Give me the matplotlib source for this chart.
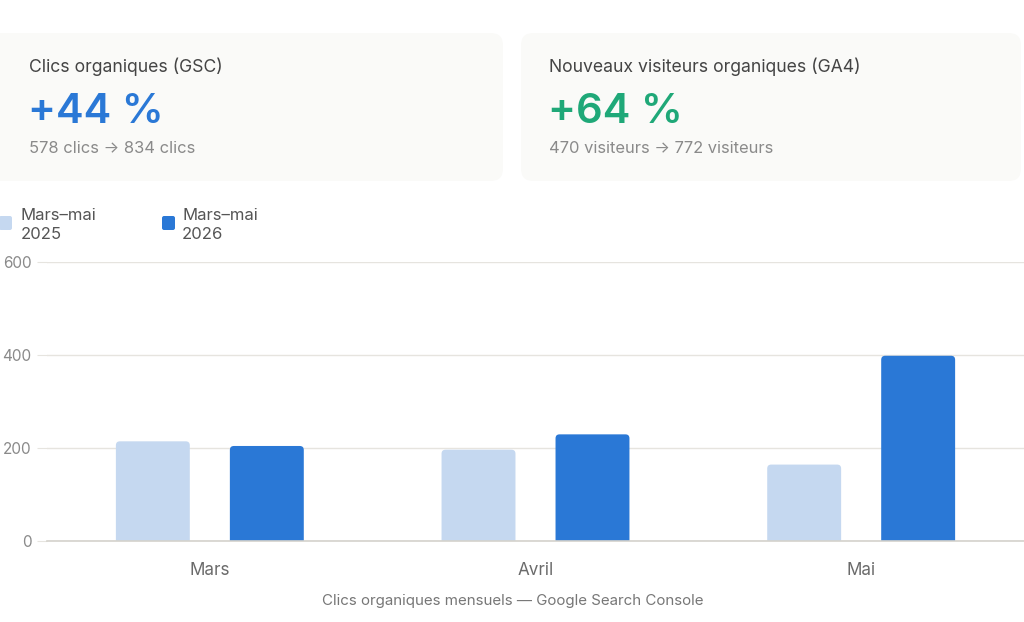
"""Clics organiques mensuels, mars-mai 2025 vs 2026."""

import matplotlib
matplotlib.use("Agg")
import matplotlib.pyplot as plt
import numpy as np
from matplotlib.patches import FancyBboxPatch

plt.rcParams["font.family"] = ["Inter", "DejaVu Sans"]

months = ["Mars", "Avril", "Mai"]
clicks_2025 = [215, 197, 165]
clicks_2026 = [205, 230, 399]
series_labels = ["Mars–mai\n2025", "Mars–mai\n2026"]
y_ticks = [0, 200, 400, 600]

cards = [
    ("Clics organiques (GSC)", "+44 %", "578 clics → 834 clics", "#2A78D6"),
    ("Nouveaux visiteurs organiques (GA4)", "+64 %", "470 visiteurs → 772 visiteurs", "#1FA878"),
]

LIGHT = "#C5D8F0"
DARK = "#2A78D6"
W, H = 1024, 622


def fx(px):
    return px / W


def fy(py):
    return 1 - py / H


fig = plt.figure(figsize=(W / 100, H / 100), dpi=100)
fig.patch.set_facecolor("white")

# summary cards
for i, (title, big, sub, color) in enumerate(cards):
    x0, x1 = (-12, 503) if i == 0 else (521, 1021)
    fig.patches.append(FancyBboxPatch(
        (fx(x0), fy(181)), fx(x1 - x0), fy(33) - fy(181),
        boxstyle="round,pad=0,rounding_size=0.012", mutation_aspect=W / H,
        transform=fig.transFigure, facecolor="#FAFAF8", edgecolor="none", zorder=0))
    tx = 29 if i == 0 else 549
    fig.text(fx(tx), fy(67), title, fontsize=12.7, color="#444444", va="center", ha="left")
    fig.text(fx(tx - 1), fy(112), big, fontsize=30, color=color, va="center", ha="left",
             fontweight="semibold")
    fig.text(fx(tx), fy(148), sub, fontsize=11.9, color="#8A8A8A", va="center", ha="left")

# chart
ax = fig.add_axes([fx(47), fy(541.3), fx(1024 - 47), fy(262.3) - fy(541.3)])
x = np.arange(len(months))
offset = 0.175
width = 0.227
bars_a = ax.bar(x - offset, clicks_2025, width, color=LIGHT)
bars_b = ax.bar(x + offset, clicks_2026, width, color=DARK)

ax.set_xlim(-0.5, 2.5)
ax.set_ylim(0, 600)

# rounded tops
px_x = (1024 - 47) / 3.0
px_y = (541.3 - 262.3) / 600.0
r = 4 / px_x
for bars in (bars_a, bars_b):
    for p in bars:
        rb = FancyBboxPatch((p.get_x(), -20), p.get_width(), p.get_height() + 20,
                            boxstyle=f"round,pad=0,rounding_size={r}",
                            mutation_aspect=px_x / px_y,
                            facecolor=p.get_facecolor(), edgecolor="none", zorder=2)
        ax.add_patch(rb)
        p.set_visible(False)

ax.set_yticks(y_ticks)
ax.set_xticks(x)
ax.set_xticklabels(months)
ax.grid(axis="y", color="#E6E4DF", linewidth=1)
ax.set_axisbelow(True)
for s in ["top", "right", "left"]:
    ax.spines[s].set_visible(False)
ax.spines["bottom"].set_color("#D4D2CC")
ax.spines["bottom"].set_linewidth(1.2)
ax.tick_params(axis="y", length=7, color="#E6E4DF", labelsize=11, labelcolor="#8A8A8A", pad=4)
ax.tick_params(axis="x", length=0, labelsize=12.3, labelcolor="#6B6B6B", pad=15)
ax.patch.set_alpha(0)

# legend
for sx, tx, color, label in [(-1, 21, LIGHT, series_labels[0]), (162, 182, DARK, series_labels[1])]:
    fig.patches.append(FancyBboxPatch(
        (fx(sx), fy(230)), fx(13), fy(216) - fy(230),
        boxstyle="round,pad=0,rounding_size=0.002", mutation_aspect=W / H,
        transform=fig.transFigure, facecolor=color, edgecolor="none"))
    fig.text(fx(tx), fy(225), label, fontsize=12, color="#555555", va="center", ha="left",
             linespacing=1.3)

fig.text(fx(513), fy(601), "Clics organiques mensuels — Google Search Console",
         fontsize=10.9, color="#777777", ha="center", va="center")

fig.savefig("out.png", dpi=100)
